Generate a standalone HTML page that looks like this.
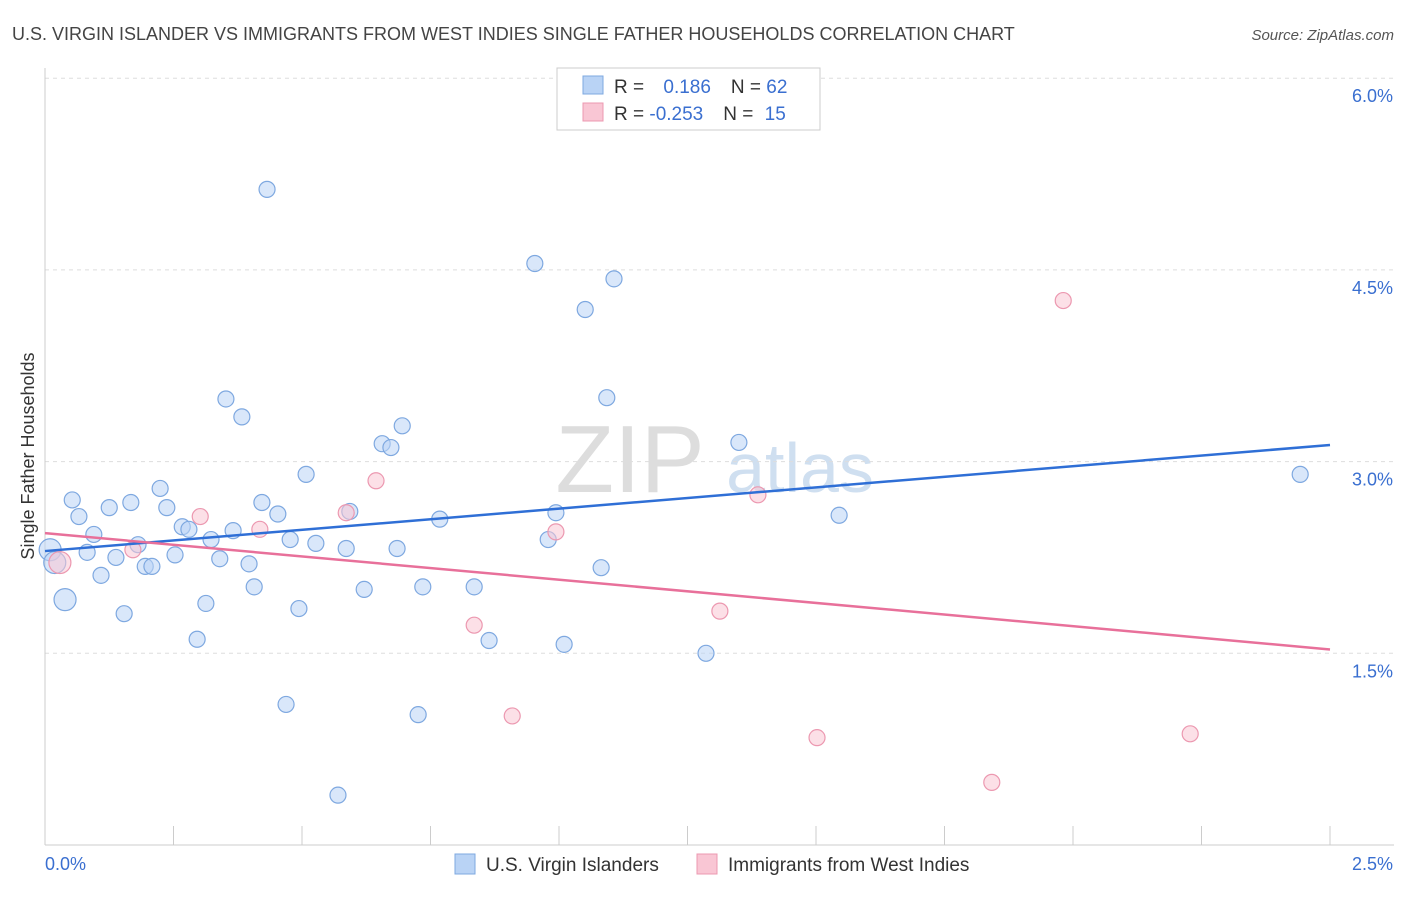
<!DOCTYPE html>
<html><head><meta charset="utf-8"><style>
body{margin:0;background:#fff;font-family:"Liberation Sans",sans-serif;}
svg text{font-family:"Liberation Sans",sans-serif;}
</style></head><body>
<svg id="chart" width="1406" height="892" xmlns="http://www.w3.org/2000/svg">
<text x="12" y="40" font-size="18" fill="#444">U.S. VIRGIN ISLANDER VS IMMIGRANTS FROM WEST INDIES SINGLE FATHER HOUSEHOLDS CORRELATION CHART</text>
<text x="1394" y="40" font-size="15" fill="#555" text-anchor="end" font-style="italic">Source: ZipAtlas.com</text>
<text x="630" y="492" font-size="96" fill="#ddd" font-family="Liberation Serif" text-anchor="middle">ZIP</text>
<text x="800" y="492" font-size="70" fill="#cfdff0" text-anchor="middle">atlas</text>
<g id="grid"></g><g id="axes"></g><g id="marks"></g>
<text transform="translate(34,456) rotate(-90)" font-size="18" fill="#333" text-anchor="middle">Single Father Households</text>
<g>
<rect x="557" y="68" width="263" height="62" fill="#fff" stroke="#ccc"/>
<rect x="583" y="76" width="20" height="18" fill="#b9d3f5" stroke="#7ea8e0"/>
<rect x="583" y="103" width="20" height="18" fill="#f9c6d4" stroke="#ec98b0"/>
<text x="614" y="93" font-size="19" fill="#333">R = <tspan fill="#3a6fd0" dx="14">0.186</tspan><tspan dx="20" fill="#333">N = </tspan><tspan fill="#3a6fd0">62</tspan></text>
<text x="614" y="120" font-size="19" fill="#333">R = <tspan fill="#3a6fd0">-0.253</tspan><tspan dx="20" fill="#333">N = </tspan><tspan fill="#3a6fd0" dx="6">15</tspan></text>
</g>
<g>
<rect x="455" y="854" width="20" height="20" fill="#b9d3f5" stroke="#7ea8e0"/>
<text x="486" y="871" font-size="19" fill="#333">U.S. Virgin Islanders</text>
<rect x="697" y="854" width="20" height="20" fill="#f9c6d4" stroke="#ec98b0"/>
<text x="728" y="871" font-size="19" fill="#333">Immigrants from West Indies</text>
</g>
</svg>
<script>
const blueX=[0.010,0.019,0.039,0.053,0.066,0.082,0.095,0.109,0.125,0.138,0.154,0.167,0.181,0.195,0.208,0.224,0.237,0.253,0.267,0.280,0.296,0.313,0.323,0.340,0.352,0.366,0.383,0.397,0.407,0.422,0.432,0.453,0.469,0.477,0.494,0.508,0.527,0.570,0.586,0.593,0.621,0.656,0.673,0.685,0.695,0.726,0.735,0.768,0.835,0.864,0.953,0.979,0.994,1.010,1.051,1.082,1.093,1.107,1.286,1.350,1.545,2.442];
const blueY=[2.31,2.21,1.92,2.70,2.57,2.29,2.43,2.11,2.64,2.25,1.81,2.68,2.35,2.18,2.18,2.79,2.64,2.27,2.49,2.47,1.61,1.89,2.39,2.24,3.49,2.46,3.35,2.20,2.02,2.68,5.13,2.59,1.10,2.39,1.85,2.90,2.36,0.39,2.32,2.61,2.00,3.14,3.11,2.32,3.28,1.02,2.02,2.55,2.02,1.60,4.55,2.39,2.60,1.57,4.19,2.17,3.50,4.43,1.50,3.15,2.58,2.90];
const pinkX=[0.029,0.171,0.302,0.418,0.586,0.644,0.835,0.909,0.994,1.313,1.387,1.502,1.842,1.981,2.228];
const pinkY=[2.21,2.31,2.57,2.47,2.60,2.85,1.72,1.01,2.45,1.83,2.74,0.84,0.49,4.26,0.87];
const blueTrend=[2.30,3.13];
const pinkTrend=[2.44,1.53];
const xTicks=[0,0.25,0.5,0.75,1,1.25,1.5,1.75,2,2.25,2.5];
const yTicks=[1.5,3.0,4.5,6.0];
const yTickLabels=["1.5%","3.0%","4.5%","6.0%"];
const xs=v=>45+v*514, ys=v=>845-v*127.8;
const NS="http://www.w3.org/2000/svg";
function mk(t,a,p){const e=document.createElementNS(NS,t);for(const k in a)e.setAttribute(k,a[k]);p.appendChild(e);return e;}
const grid=document.getElementById('grid'),axes=document.getElementById('axes'),marks=document.getElementById('marks');
yTicks.forEach((v,i)=>{const l=mk('line',{x1:45,x2:1394,y1:ys(v),y2:ys(v),stroke:'#ddd','stroke-dasharray':'4,4'},grid);

const t=mk('text',{x:1393,y:ys(v)+24,'font-size':18,fill:'#3a6fd0','text-anchor':'end'},axes);t.textContent=yTickLabels[i];
});
const ax=mk('line',{x1:45,x2:1394,y1:845,y2:845,stroke:'#ccc'},axes);

const ay=mk('line',{x1:45,x2:45,y1:68,y2:845,stroke:'#ccc'},axes);

xTicks.forEach(v=>{const l=mk('line',{x1:xs(v),x2:xs(v),y1:826,y2:845,stroke:'#ccc'},axes);
});
const t0=mk('text',{x:45,y:870,'font-size':18,fill:'#3a6fd0'},axes);t0.textContent='0.0%';

const t1=mk('text',{x:1393,y:870,'font-size':18,fill:'#3a6fd0','text-anchor':'end'},axes);t1.textContent='2.5%';

function pts(X,Y,fill,stroke,name){X.forEach((x,i)=>{const r=(i===0)?11:8;
const c=mk('circle',{cx:xs(x),cy:ys(Y[i]),r:(x<0.04?11:8),fill:fill,stroke:stroke,'stroke-width':1.2,'fill-opacity':0.55},marks);
});}
pts(blueX,blueY,'#b9d3f5','#7ea8e0','blue-point');
pts(pinkX,pinkY,'#f9c6d4','#ec98b0','pink-point');
const bl=mk('line',{x1:xs(0),y1:ys(blueTrend[0]),x2:xs(2.5),y2:ys(blueTrend[1]),stroke:'#2f6fd6','stroke-width':2.5},marks);

const pl=mk('line',{x1:xs(0),y1:ys(pinkTrend[0]),x2:xs(2.5),y2:ys(pinkTrend[1]),stroke:'#e8709a','stroke-width':2.5},marks);

</script>
</body></html>
